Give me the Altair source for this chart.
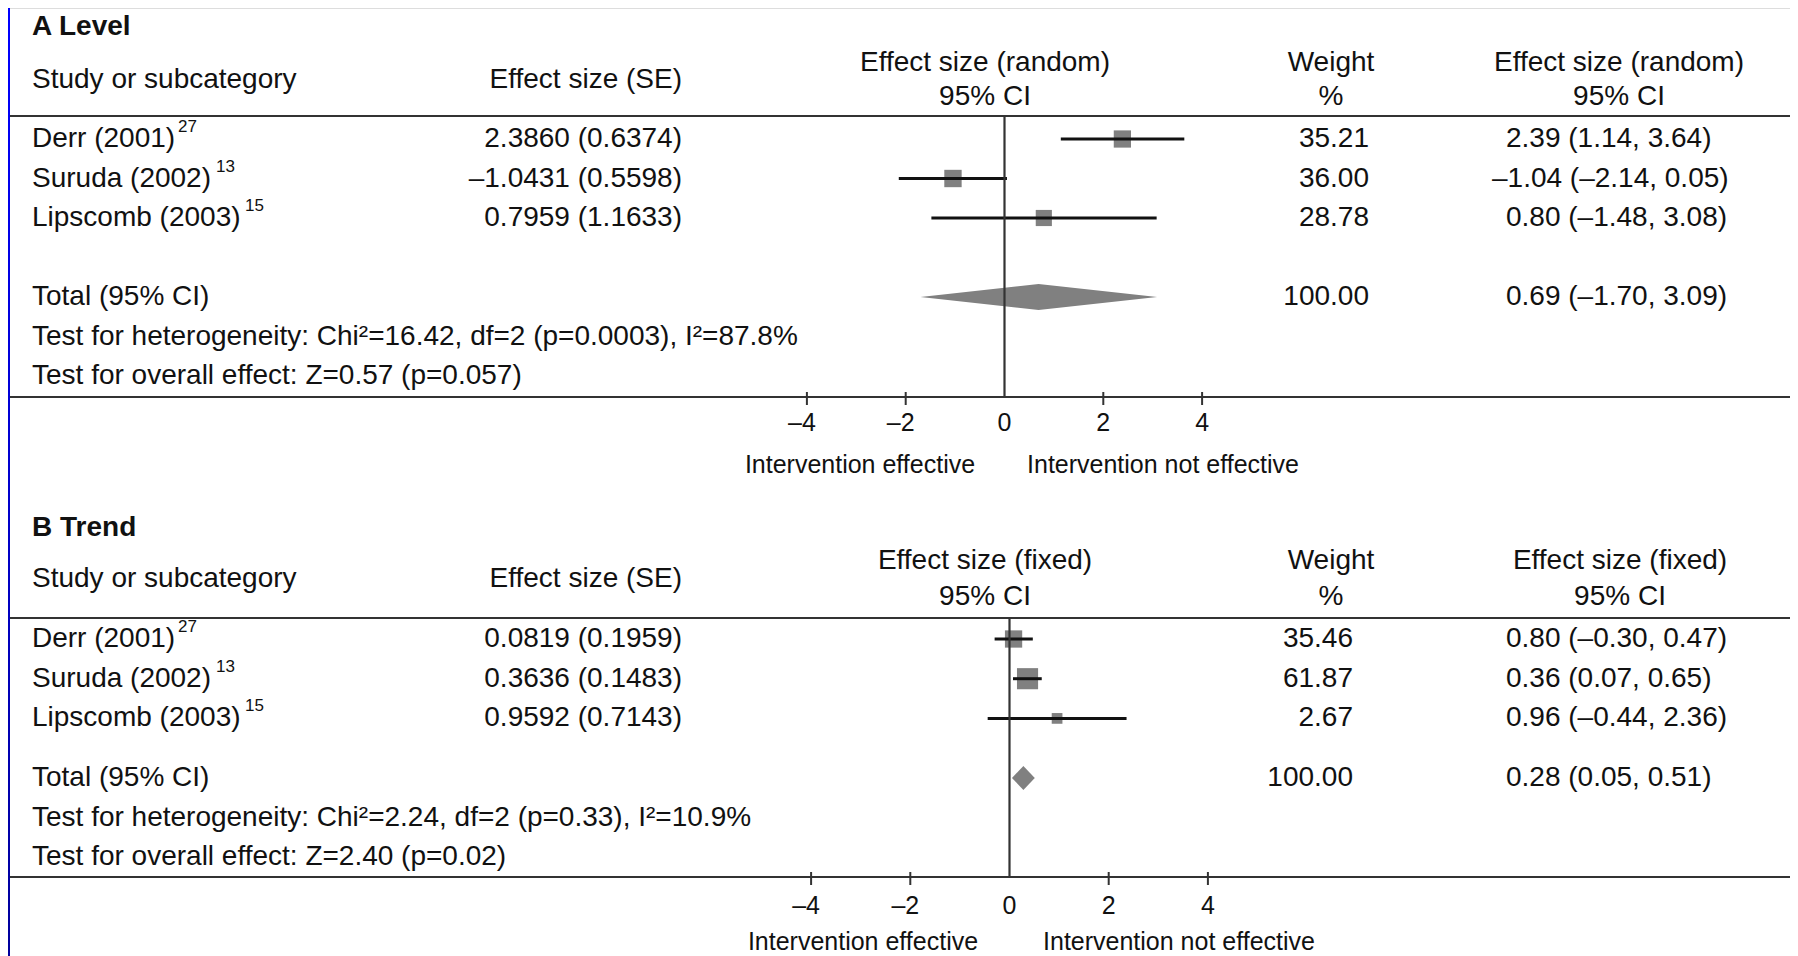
import altair as alt
import pandas as pd

# ------------------------------------------------------------------ data
STUDIES = ["Derr (2001)", "Suruda (2002)", "Lipscomb (2003)"]
REFS = ["27", "13", "15"]
TOTAL_LABEL = "Total (95% CI)"
STUDY_HEAD = "Study or subcategory"
ES_HEAD = "Effect size (SE)"
WEIGHT_HEAD = ["Weight", "%"]

A_TITLE = "A Level"
A_MODEL = "Effect size (random)"
A_EFFECT = [2.3860, -1.0431, 0.7959]
A_SE = [0.6374, 0.5598, 1.1633]
A_WEIGHT = [35.21, 36.00, 28.78]
A_CI_EST = [2.39, -1.04, 0.80]
A_CI_LO = [1.14, -2.14, -1.48]
A_CI_HI = [3.64, 0.05, 3.08]
A_TOTAL = [0.69, -1.70, 3.09]          # estimate, lower, upper
A_TOTAL_WEIGHT = 100.00
A_HET = "Test for heterogeneity: Chi²=16.42, df=2 (p=0.0003), I²=87.8%"
A_OVERALL = "Test for overall effect: Z=0.57 (p=0.057)"

B_TITLE = "B Trend"
B_MODEL = "Effect size (fixed)"
B_EFFECT = [0.0819, 0.3636, 0.9592]
B_SE = [0.1959, 0.1483, 0.7143]
B_WEIGHT = [35.46, 61.87, 2.67]
B_CI_EST = [0.80, 0.36, 0.96]
B_CI_LO = [-0.30, 0.07, -0.44]
B_CI_HI = [0.47, 0.65, 2.36]
B_TOTAL = [0.28, 0.05, 0.51]
B_TOTAL_WEIGHT = 100.00
B_HET = "Test for heterogeneity: Chi²=2.24, df=2 (p=0.33), I²=10.9%"
B_OVERALL = "Test for overall effect: Z=2.40 (p=0.02)"

TICKS = [-4, -2, 0, 2, 4]
TICK_LABELS = ["–4", "–2", "0", "2", "4"]
SIDE_LABELS = ["Intervention effective", "Intervention not effective"]

# ------------------------------------------------------------------ style / layout
W, H = 1782, 948
FONT = "Liberation Sans"
INK = "#111111"
LINE = "#333333"
GREY = "#808080"
NAME_X, ES_X, FOREST_HEAD_X, WEIGHT_HEAD_X = 24, 674, 977, 1323
CI_X, CI_NEG_X = 1498, 1484
SUP_X = [170, 208, 237]

LAYOUT = {
    "A": dict(zero=996.5, ppu=49.4, y0=131, step=39.5, total=4, het=5, overall=6,
              title_y=19, head1_y=55, head2_y=89, head_mid_y=72, top_line=108,
              bottom_line=389, tick_lab_y=415, side_y=457, weight_x=1361,
              side_x=[852, 1155], right_head_x=1611, diamond_half=13),
    "B": dict(zero=1001.5, ppu=49.6, y0=631, step=39.7, total=3.5, het=4.5, overall=5.5,
              title_y=520, head1_y=553, head2_y=589, head_mid_y=571, top_line=610,
              bottom_line=869, tick_lab_y=898, side_y=934, weight_x=1345,
              side_x=[855, 1171], right_head_x=1612, diamond_half=12),
}


def fmt(v, d):
    return f"{v:.{d}f}".replace("-", "–")


def txt(s, x, y, align="center", size=28, bold=False):
    return alt.Chart(pd.DataFrame({"t": [s]})).mark_text(
        font=FONT, fontSize=size, fontWeight="bold" if bold else "normal",
        color=INK, align=align, baseline="middle"
    ).encode(text="t:N", x=alt.value(x), y=alt.value(y))


def hline(y):
    return alt.Chart(pd.DataFrame({"k": [0]})).mark_rule(
        color=LINE, strokeWidth=2.2
    ).encode(x=alt.value(2), x2=alt.value(W), y=alt.value(y))


def panel(title, model, eff, se, wt, est, lo, hi, tot, tot_w, het, overall, L):
    xs = alt.Scale(domain=[-L["zero"] / L["ppu"], (W - L["zero"]) / L["ppu"]],
                   nice=False, zero=False)
    ys = alt.Scale(domain=[-L["y0"] / L["step"], (H - L["y0"]) / L["step"]],
                   reverse=True, nice=False, zero=False)

    def X(f):
        return alt.X(f, scale=xs, axis=None)

    def Y(f):
        return alt.Y(f, scale=ys, axis=None)

    rows = list(range(len(STUDIES)))
    studies = pd.DataFrame({
        "name": STUDIES, "ref": REFS, "row": rows,
        "es": [f"{fmt(e, 4)} ({fmt(s, 4)})" for e, s in zip(eff, se)],
        "w": [fmt(v, 2) for v in wt], "weight": wt,
        "effect": eff, "lo": lo, "hi": hi,
        "ci": [f"{fmt(a, 2)} ({fmt(b, 2)}, {fmt(c, 2)})" for a, b, c in zip(est, lo, hi)],
    })
    studies["sx"] = SUP_X
    left = pd.DataFrame({
        "label": STUDIES + [TOTAL_LABEL, het, overall],
        "row": rows + [L["total"], L["het"], L["overall"]],
    })
    right = pd.DataFrame({
        "w": list(studies["w"]) + [fmt(tot_w, 2)],
        "ci": list(studies["ci"]) + [f"{fmt(tot[0], 2)} ({fmt(tot[1], 2)}, {fmt(tot[2], 2)})"],
        "row": rows + [L["total"]],
    })
    right["neg"] = right["ci"].str.startswith("–")
    h = L["diamond_half"] / L["step"]
    r = L["total"]
    diamond = pd.DataFrame({"x": [tot[1], tot[0], tot[2]],
                            "y1": [r, r - h, r], "y2": [r, r + h, r]})
    ticks = pd.DataFrame({"v": TICKS, "lab": TICK_LABELS})

    base_txt = dict(font=FONT, fontSize=28, color=INK, baseline="middle")
    layers = [
        txt(title, NAME_X, L["title_y"], "left", bold=True),
        txt(STUDY_HEAD, NAME_X, L["head_mid_y"], "left"),
        txt(ES_HEAD, ES_X, L["head_mid_y"], "right"),
        txt(model, FOREST_HEAD_X, L["head1_y"]),
        txt("95% CI", FOREST_HEAD_X, L["head2_y"]),
        txt(WEIGHT_HEAD[0], WEIGHT_HEAD_X, L["head1_y"]),
        txt(WEIGHT_HEAD[1], WEIGHT_HEAD_X, L["head2_y"]),
        txt(model, L["right_head_x"], L["head1_y"]),
        txt("95% CI", L["right_head_x"], L["head2_y"]),
        hline(L["top_line"]),
        hline(L["bottom_line"]),
        # left text column
        alt.Chart(left).mark_text(align="left", **base_txt).encode(
            text="label:N", x=alt.value(NAME_X), y=Y("row:Q")),
        # reference superscripts
        alt.Chart(studies).mark_text(align="left", font=FONT, fontSize=17, color=INK,
                                     baseline="middle", dy=-12).encode(
            text="ref:N", x=alt.X("sx:Q", scale=None, axis=None), y=Y("row:Q")),
        alt.Chart(studies).mark_text(align="right", **base_txt).encode(
            text="es:N", x=alt.value(ES_X), y=Y("row:Q")),
        alt.Chart(right).mark_text(align="right", **base_txt).encode(
            text="w:N", x=alt.value(L["weight_x"]), y=Y("row:Q")),
        alt.Chart(right).transform_filter("!datum.neg").mark_text(align="left", **base_txt).encode(
            text="ci:N", x=alt.value(CI_X), y=Y("row:Q")),
        alt.Chart(right).transform_filter("datum.neg").mark_text(align="left", **base_txt).encode(
            text="ci:N", x=alt.value(CI_NEG_X), y=Y("row:Q")),
        # forest marks
        alt.Chart(studies).mark_square(color=GREY, opacity=1).encode(
            x=X("effect:Q"), y=Y("row:Q"),
            size=alt.Size("weight:Q", scale=alt.Scale(domain=[0, 100], range=[100, 660]),
                          legend=None)),
        alt.Chart(studies).mark_rule(color=INK, strokeWidth=3).encode(
            x=X("lo:Q"), x2="hi:Q", y=Y("row:Q")),
        alt.Chart(diamond).mark_area(color=GREY, opacity=1, orient="vertical").encode(
            x=X("x:Q"), y=Y("y1:Q"), y2="y2:Q"),
        alt.Chart(pd.DataFrame({"v": [0]})).mark_rule(color=LINE, strokeWidth=2.2).encode(
            x=X("v:Q"), y=alt.value(L["top_line"]), y2=alt.value(L["bottom_line"])),
        # axis ticks and labels
        alt.Chart(ticks).transform_filter("datum.v != 0").mark_rule(
            color=LINE, strokeWidth=2).encode(
            x=X("v:Q"), y=alt.value(L["bottom_line"] - 5), y2=alt.value(L["bottom_line"] + 8)),
        alt.Chart(ticks).transform_filter("datum.v >= 0").mark_text(
            font=FONT, fontSize=25, color=INK, baseline="middle").encode(
            text="lab:N", x=X("v:Q"), y=alt.value(L["tick_lab_y"])),
        alt.Chart(ticks).transform_filter("datum.v < 0").mark_text(
            font=FONT, fontSize=25, color=INK, baseline="middle", dx=-5).encode(
            text="lab:N", x=X("v:Q"), y=alt.value(L["tick_lab_y"])),
        txt(SIDE_LABELS[0], L["side_x"][0], L["side_y"], size=25),
        txt(SIDE_LABELS[1], L["side_x"][1], L["side_y"], size=25),
    ]
    return alt.layer(*layers)


panel_a = panel(A_TITLE, A_MODEL, A_EFFECT, A_SE, A_WEIGHT, A_CI_EST, A_CI_LO, A_CI_HI,
                A_TOTAL, A_TOTAL_WEIGHT, A_HET, A_OVERALL, LAYOUT["A"])
panel_b = panel(B_TITLE, B_MODEL, B_EFFECT, B_SE, B_WEIGHT, B_CI_EST, B_CI_LO, B_CI_HI,
                B_TOTAL, B_TOTAL_WEIGHT, B_HET, B_OVERALL, LAYOUT["B"])

blue = alt.Chart(pd.DataFrame({"k": [0]})).mark_rect(
    fill=alt.LinearGradient(gradient="linear",
                            stops=[alt.GradientStop(color="#0000ff", offset=0),
                                   alt.GradientStop(color="#00009c", offset=1)],
                            x1=0, x2=0, y1=0, y2=1)
).encode(x=alt.value(0), x2=alt.value(2), y=alt.value(0), y2=alt.value(H))

chart = alt.layer(blue, panel_a, panel_b).resolve_scale(
    x="independent", y="independent"
).properties(
    width=W, height=H, padding=0, autosize=alt.AutoSizeParams(type="none")
).configure_view(strokeWidth=0).configure(background="white")

chart.save("out.html", embed_options={"renderer": "svg", "actions": False})
